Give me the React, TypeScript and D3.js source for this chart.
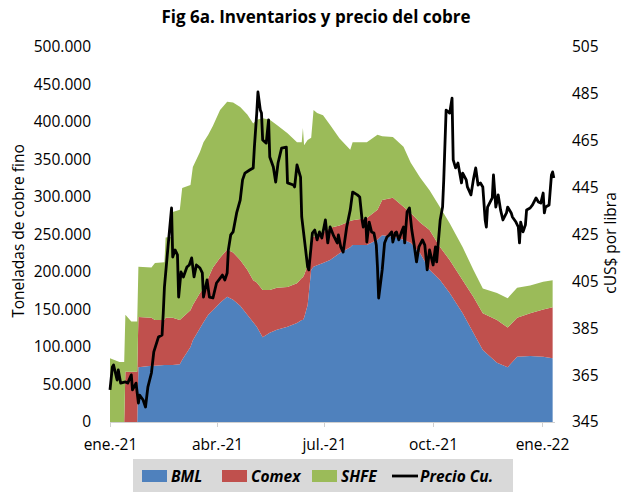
import React from "react";
import * as d3 from "d3";

// ---- Data ----
const invDates = [
  "2021-01-01","2021-01-09","2021-01-13","2021-01-14","2021-01-19","2021-01-24","2021-01-25",
  "2021-02-05","2021-02-08","2021-02-16","2021-02-17","2021-02-22","2021-02-23",
  "2021-03-01","2021-03-03","2021-03-10","2021-03-12","2021-03-18","2021-03-21","2021-03-25","2021-03-29",
  "2021-04-04","2021-04-10","2021-04-15","2021-04-21","2021-04-27",
  "2021-05-02","2021-05-05","2021-05-10","2021-05-16","2021-05-22","2021-05-31",
  "2021-06-08","2021-06-12","2021-06-13","2021-06-14","2021-06-17","2021-06-20","2021-06-22","2021-06-25","2021-06-30",
  "2021-07-06","2021-07-14","2021-07-23","2021-07-25",
  "2021-08-06","2021-08-15","2021-08-19","2021-08-28",
  "2021-09-06","2021-09-12","2021-09-20","2021-09-28",
  "2021-10-07","2021-10-15","2021-10-26",
  "2021-11-04","2021-11-12","2021-11-24",
  "2021-12-03","2021-12-11","2021-12-22",
  "2022-01-02","2022-01-10"
];
const bml = [
  0,0,0,0,0,0,73000,
  75000,75000,76000,76000,76000,76000,
  77000,83000,100000,109000,125000,133000,143000,149000,
  159000,167000,163000,155000,143000,
  133000,127000,113000,119000,123000,127000,
  132000,136000,136000,139000,156000,203000,207000,209000,212000,
  216000,225000,233000,236000,
  236000,243000,249000,247000,
  243000,239000,225000,203000,
  189000,172000,145000,
  119000,96000,79000,
  73000,87000,88000,
  87000,85000
];
const comex = [
  0,0,0,67000,67000,67000,67000,
  64000,61000,60000,63000,63000,63000,
  59000,56000,49000,47000,47000,45000,49000,57000,
  60000,63000,63000,61000,60000,
  56000,59000,63000,57000,56000,53000,
  53000,56000,57000,57000,53000,43000,40000,40000,41000,
  43000,37000,35000,33000,
  36000,40000,47000,52000,
  44000,40000,41000,53000,
  44000,44000,44000,
  48000,49000,57000,
  53000,52000,57000,
  63000,68000
];
const shfe = [
  85000,80000,80000,76000,67000,67000,67000,
  67000,76000,77000,107000,108000,141000,
  147000,173000,167000,184000,188000,195000,191000,189000,
  197000,197000,200000,204000,207000,
  209000,217000,229000,227000,217000,205000,
  188000,181000,199000,173000,167000,133000,169000,163000,156000,
  137000,116000,95000,104000,
  101000,100000,85000,81000,
  80000,67000,60000,53000,
  53000,49000,44000,
  36000,33000,36000,
  39000,40000,37000,
  37000,36000
];

const priceDates = [
  "2021-01-01","2021-01-03","2021-01-04","2021-01-07","2021-01-08","2021-01-10","2021-01-14","2021-01-16",
  "2021-01-19","2021-01-20","2021-01-23","2021-01-25","2021-01-26","2021-01-29","2021-01-31",
  "2021-02-02","2021-02-05","2021-02-07","2021-02-11","2021-02-14","2021-02-15","2021-02-16","2021-02-19",
  "2021-02-22","2021-02-23","2021-02-25","2021-02-27","2021-02-28",
  "2021-03-02","2021-03-04","2021-03-07","2021-03-09","2021-03-11","2021-03-13","2021-03-15","2021-03-18",
  "2021-03-20","2021-03-21","2021-03-24","2021-03-26","2021-03-29",
  "2021-04-01","2021-04-06","2021-04-08","2021-04-10","2021-04-11","2021-04-13","2021-04-15","2021-04-18",
  "2021-04-21","2021-04-23","2021-04-25","2021-04-29",
  "2021-05-02","2021-05-03","2021-05-05","2021-05-06","2021-05-08","2021-05-09","2021-05-10","2021-05-13",
  "2021-05-15","2021-05-16","2021-05-19","2021-05-21","2021-05-23","2021-05-26","2021-05-30","2021-05-31",
  "2021-06-05","2021-06-06","2021-06-08","2021-06-11","2021-06-12","2021-06-15","2021-06-17","2021-06-18",
  "2021-06-21","2021-06-23","2021-06-25","2021-06-27","2021-06-29",
  "2021-07-02","2021-07-04","2021-07-06","2021-07-09","2021-07-12","2021-07-13","2021-07-15","2021-07-17",
  "2021-07-20","2021-07-23","2021-07-25","2021-07-29","2021-07-31",
  "2021-08-02","2021-08-03","2021-08-05","2021-08-06","2021-08-08","2021-08-10","2021-08-12","2021-08-14",
  "2021-08-15","2021-08-16","2021-08-19","2021-08-21","2021-08-23","2021-08-25","2021-08-27","2021-08-28",
  "2021-08-30","2021-08-31",
  "2021-09-02","2021-09-04","2021-09-06","2021-09-07","2021-09-09","2021-09-11","2021-09-13","2021-09-15",
  "2021-09-17","2021-09-19","2021-09-22","2021-09-24","2021-09-26","2021-09-28",
  "2021-10-01","2021-10-03","2021-10-04","2021-10-07","2021-10-09","2021-10-10","2021-10-12","2021-10-13",
  "2021-10-15","2021-10-17","2021-10-18","2021-10-20","2021-10-22","2021-10-25","2021-10-26","2021-10-29",
  "2021-10-30",
  "2021-11-02","2021-11-04","2021-11-06","2021-11-08","2021-11-10","2021-11-12","2021-11-14","2021-11-15",
  "2021-11-16","2021-11-20","2021-11-21","2021-11-23","2021-11-25","2021-11-27","2021-11-29",
  "2021-12-02","2021-12-03","2021-12-06","2021-12-07","2021-12-10","2021-12-12","2021-12-13","2021-12-14",
  "2021-12-16","2021-12-18","2021-12-19","2021-12-22","2021-12-24","2021-12-27","2021-12-29","2021-12-31",
  "2022-01-02","2022-01-03","2022-01-04","2022-01-07","2022-01-09","2022-01-10","2022-01-11"
];
const price = [
  358.7,368.5,369.3,362.9,367.2,361.6,362.1,361.6,
  365.1,358.7,361.6,353.1,356.5,354.4,351.4,
  359.9,365.9,374.9,381.3,382.1,391.5,402.6,419.7,
  436.3,415.4,418.4,416.3,398.3,
  409.0,406.9,411.1,412.0,415.0,406.9,412.0,410.7,
  408.6,398.3,405.6,398.3,397.9,
  404.3,407.7,405.6,408.6,418.4,424.8,426.1,434.2,
  439.7,448.3,451.2,452.5,
  453.4,462.3,476.8,485.8,478.1,476.8,465.3,464.0,
  473.9,458.1,453.8,447.4,455.5,461.9,462.3,447.0,
  446.1,445.3,454.7,449.5,432.5,419.7,411.1,409.9,
  425.6,426.9,422.7,426.1,423.5,
  431.2,421.4,428.2,424.4,421.4,424.8,419.7,417.5,
  428.2,435.5,443.1,441.9,441.0,
  431.2,428.2,432.0,421.8,430.3,426.1,425.6,420.5,
  411.1,397.9,409.9,421.4,423.9,424.8,426.1,421.8,
  425.6,426.1,
  422.7,425.6,428.2,421.4,434.6,436.3,426.9,420.5,
  413.3,419.7,422.7,420.5,409.9,418.4,
  412.0,419.7,413.3,431.2,436.7,448.3,478.1,477.7,
  476.8,483.2,456.8,453.4,455.5,447.0,451.2,448.3,
  445.3,
  441.9,448.3,453.4,446.1,447.0,445.3,431.2,428.2,
  436.7,440.6,450.4,436.7,441.9,435.5,431.2,
  434.2,436.7,434.2,432.5,430.3,428.2,421.4,430.3,
  426.1,429.1,435.5,436.3,437.6,440.6,438.9,438.4,
  442.7,434.2,436.7,437.6,450.4,451.7,449.1
];

const leftTicks = [0, 50000, 100000, 150000, 200000, 250000, 300000, 350000, 400000, 450000, 500000];
const rightTicks = [345, 365, 385, 405, 425, 445, 465, 485, 505];
const xTickDates = ["2021-01-01", "2021-04-01", "2021-07-01", "2021-10-01", "2022-01-01"];
const xTickLabels = ["ene.-21", "abr.-21", "jul.-21", "oct.-21", "ene.-22"];
const seriesKeys = ["BML", "Comex", "SHFE"];
const seriesColors = ["#4f81bd", "#c0504d", "#9bbb59"];
const title = "Fig 6a. Inventarios y precio del cobre";

const FONT = "'Open Sans', 'DejaVu Sans', sans-serif";

export default function App() {
  const parse = d3.utcParse("%Y-%m-%d");
  const x = d3.scaleUtc()
    .domain([parse("2021-01-01") as Date, parse("2022-01-12") as Date])
    .range([110, 555]);
  const yL = d3.scaleLinear().domain([0, 500000]).range([422, 47]);
  const yR = d3.scaleLinear().domain([345, 505]).range([422, 47]);

  const table = invDates.map((d, i) => ({
    date: parse(d) as Date,
    BML: bml[i],
    Comex: comex[i],
    SHFE: shfe[i],
  }));
  const stacked = d3.stack<any>().keys(seriesKeys)(table);
  const area = d3.area<any>()
    .x((d) => x(d.data.date))
    .y0((d) => yL(d[0]))
    .y1((d) => yL(d[1]));

  const pricePts = priceDates.map((d, i) => ({ date: parse(d) as Date, v: price[i] }));
  const line = d3.line<any>().x((d) => x(d.date)).y((d) => yR(d.v));

  const loc = d3.formatLocale({ decimal: ",", thousands: ".", grouping: [3], currency: ["", ""] });
  const fmt = loc.format(",");

  const legendItems = [
    { label: "BML", color: seriesColors[0], x: 142 },
    { label: "Comex", color: seriesColors[1], x: 222 },
    { label: "SHFE", color: seriesColors[2], x: 312 },
  ];

  return (
    <svg width={625} height={493} style={{ position: "absolute", left: 0, top: 0, background: "#fff" }}
      fontFamily={FONT}>
      <rect x={0} y={0} width={625} height={493} fill="#fff" />
      <text x={316} y={23} textAnchor="middle" fontSize={17} fontWeight="bold" fill="#000">{title}</text>

      {stacked.map((s, i) => (
        <path key={s.key} d={area(s as any) || ""} fill={seriesColors[i]} />
      ))}

      {/* x axis */}
      <line x1={110} x2={555} y1={422.5} y2={422.5} stroke="#d0d0d0" strokeWidth={1} />
      {xTickDates.map((d, i) => {
        const xx = Math.round(x(parse(d) as Date)) + 0.5;
        return (
          <g key={d}>
            <line x1={xx} x2={xx} y1={422} y2={427} stroke="#d0d0d0" />
            <text x={xx} y={450} textAnchor="middle" fontSize={15.5} fill="#000">{xTickLabels[i]}</text>
          </g>
        );
      })}

      {/* price line */}
      <path d={line(pricePts) || ""} fill="none" stroke="#000" strokeWidth={2.8} strokeLinejoin="round" />

      {/* left axis labels */}
      {leftTicks.map((t) => (
        <text key={t} x={91} y={yL(t)} dy="0.35em" textAnchor="end" fontSize={15.5} fill="#000">{fmt(t)}</text>
      ))}
      {/* right axis labels */}
      {rightTicks.map((t) => (
        <text key={t} x={572} y={yR(t)} dy="0.35em" textAnchor="start" fontSize={15.5} fill="#000">{t}</text>
      ))}

      <text transform="translate(24,231) rotate(-90)" textAnchor="middle" fontSize={15.5} fill="#000">Toneladas de cobre fino</text>
      <text transform="translate(616,243) rotate(-90)" textAnchor="middle" fontSize={15.5} fill="#000">cUS$ por libra</text>

      {/* legend */}
      <rect x={133} y={459} width={380} height={33} fill="#d9d9d9" />
      {legendItems.map((it) => (
        <g key={it.label}>
          <rect x={it.x} y={470} width={25} height={12} fill={it.color} />
          <text x={it.x + 29} y={482} fontSize={15.5} fontWeight="bold" fontStyle="italic" fill="#000">{it.label}</text>
        </g>
      ))}
      <line x1={392} x2={418} y1={476} y2={476} stroke="#000" strokeWidth={2.8} />
      <text x={420} y={482} fontSize={15.5} fontWeight="bold" fontStyle="italic" fill="#000">Precio Cu.</text>
    </svg>
  );
}
